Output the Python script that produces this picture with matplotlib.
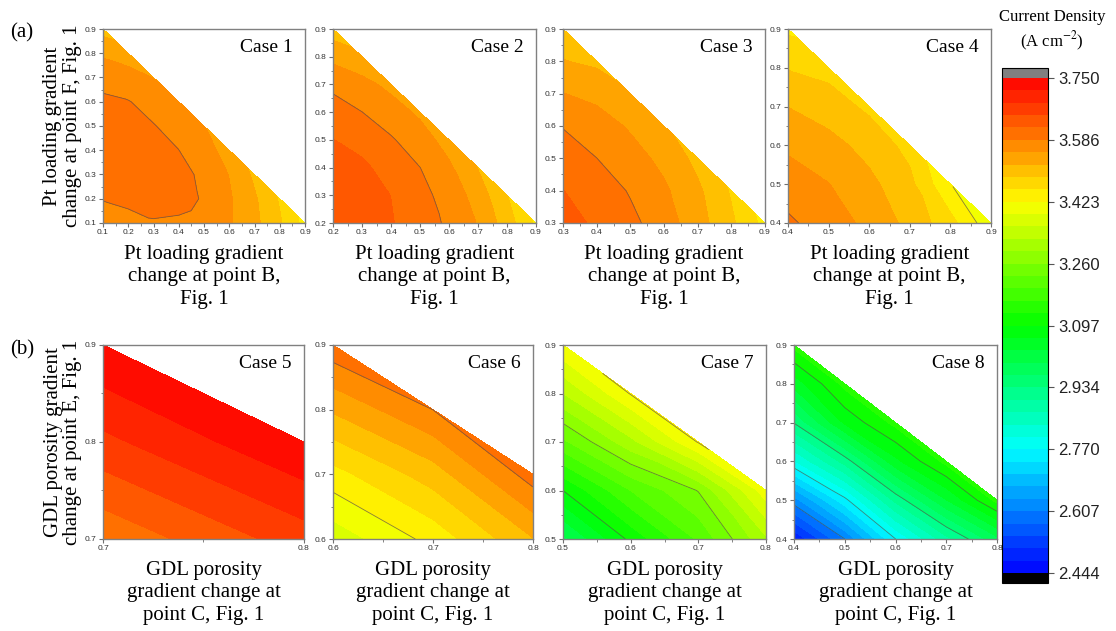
import numpy as np
import matplotlib
matplotlib.use('Agg')
import matplotlib.pyplot as plt
import matplotlib.tri as mtri
from matplotlib.colors import LinearSegmentedColormap, Normalize
from matplotlib.ticker import MultipleLocator, FormatStrFormatter

plt.rcParams['mathtext.fontset'] = 'stix'

# colour scale of the shared bar
cbar_min = 2.444
cbar_max = 3.750
n_levels = 40
cbar_ticklabels = ['2.444', '2.607', '2.770', '2.934', '3.097', '3.260', '3.423', '3.586', '3.750']

case_names = ['Case 1', 'Case 2', 'Case 3', 'Case 4', 'Case 5', 'Case 6', 'Case 7', 'Case 8']
# lower-left corner of each data grid (step 0.1), axis upper limits
case_x0 = [0.1, 0.2, 0.3, 0.4, 0.7, 0.6, 0.5, 0.4]
case_y0 = [0.1, 0.2, 0.3, 0.4, 0.7, 0.6, 0.5, 0.4]
case_xmax = [0.9, 0.9, 0.9, 0.9, 0.8, 0.8, 0.8, 0.8]
case_ymax = [0.9, 0.9, 0.9, 0.9, 0.9, 0.9, 0.9, 0.9]

# current density (A cm-2), one row per y value from the bottom, x increasing
case1 = [
    [3.552, 3.567, 3.583, 3.580, 3.572, 3.558, 3.530, 3.493, 3.445],
    [3.590, 3.601, 3.604, 3.601, 3.583, 3.558, 3.526, 3.485],
    [3.595, 3.603, 3.603, 3.597, 3.580, 3.553, 3.515],
    [3.597, 3.602, 3.599, 3.587, 3.568, 3.540],
    [3.596, 3.598, 3.588, 3.577, 3.555],
    [3.592, 3.588, 3.577, 3.558],
    [3.577, 3.570, 3.553],
    [3.548, 3.535],
    [3.510],
]
case2 = [
    [3.650, 3.640, 3.622, 3.600, 3.582, 3.552, 3.505, 3.450],
    [3.645, 3.632, 3.619, 3.596, 3.575, 3.540, 3.490],
    [3.635, 3.625, 3.608, 3.587, 3.560, 3.520],
    [3.620, 3.610, 3.590, 3.570, 3.540],
    [3.600, 3.587, 3.570, 3.548],
    [3.580, 3.565, 3.545],
    [3.545, 3.530],
    [3.505],
]
case3 = [
    [3.630, 3.615, 3.595, 3.570, 3.535, 3.495, 3.445],
    [3.620, 3.605, 3.584, 3.560, 3.528, 3.485],
    [3.605, 3.587, 3.568, 3.545, 3.512],
    [3.585, 3.570, 3.550, 3.525],
    [3.555, 3.545, 3.525],
    [3.523, 3.515],
    [3.500],
]
case4 = [
    [3.592, 3.572, 3.545, 3.512, 3.468, 3.400],
    [3.572, 3.555, 3.530, 3.498, 3.425],
    [3.548, 3.533, 3.510, 3.478],
    [3.521, 3.505, 3.482],
    [3.487, 3.478],
    [3.450],
]
case5 = [
    [3.594, 3.669],
    [3.676, 3.749],
    [3.749],
]
case6 = [
    [3.370, 3.435, 3.520],
    [3.444, 3.505, 3.603],
    [3.526, 3.587],
    [3.609],
]
case7 = [
    [2.990, 3.106, 3.200, 3.320],
    [3.097, 3.195, 3.262, 3.410],
    [3.220, 3.315, 3.426],
    [3.325, 3.426],
    [3.420],
]
case8 = [
    [2.480, 2.607, 2.770, 2.890, 2.990],
    [2.625, 2.760, 2.910, 3.030, 3.140],
    [2.800, 2.915, 3.055, 3.140],
    [2.936, 3.070, 3.140],
    [3.045, 3.140],
    [3.140],
]
case_values = [case1, case2, case3, case4, case5, case6, case7, case8]

x_labels = ['Pt loading gradient\nchange at point B,\nFig. 1',
            'GDL porosity\ngradient change at\npoint C, Fig. 1']
y_labels = ['Pt loading gradient\nchange at point F, Fig. 1',
            'GDL porosity gradient\nchange at point E, Fig. 1']


def triangulate(x0, y0, rows):
    xs, ys, zs, idx = [], [], [], {}
    for k, row in enumerate(rows):
        for i, v in enumerate(row):
            idx[(i, k)] = len(xs)
            xs.append(x0 + 0.1 * i)
            ys.append(y0 + 0.1 * k)
            zs.append(v)
    tris = []
    for k in range(len(rows) - 1):
        for i in range(len(rows[k]) - 1):
            a, b, c = idx[(i, k)], idx[(i + 1, k)], idx.get((i, k + 1))
            if c is None:
                continue
            tris.append([a, b, c])
            d = idx.get((i + 1, k + 1))
            if d is not None:
                tris.append([b, d, c])
    return mtri.Triangulation(xs, ys, tris), np.array(zs)


cmap = LinearSegmentedColormap.from_list(
    'origin_rainbow',
    [(0.0, '#0000ff'), (0.25, '#00ffff'), (0.5, '#00ff00'), (0.75, '#ffff00'), (1.0, '#ff0000')])
cmap.set_under('black')
cmap.set_over('#808080')
norm = Normalize(cbar_min, cbar_max)
levels = np.linspace(cbar_min, cbar_max, n_levels + 1)
major = levels[5:-1:5]

W, H = 1116, 631
fig = plt.figure(figsize=(W / 100, H / 100), dpi=100)

# axes boxes in pixels: left, right, top, bottom
boxes = [(103, 305, 29, 223), (333, 536, 29, 223), (563, 765, 29, 223), (788, 991, 29, 223),
         (103, 304, 345, 539), (333, 533, 345, 539), (563, 766, 345, 539), (794, 997, 345, 539)]

serif = 'Liberation Serif'
sans = 'Liberation Sans'
cs = None
for n in range(8):
    l, r, t, b = boxes[n]
    ax = fig.add_axes([l / W, 1 - b / H, (r - l) / W, (b - t) / H])
    tri, z = triangulate(case_x0[n], case_y0[n], case_values[n])
    cs = ax.tricontourf(tri, z, levels=levels, cmap=cmap, norm=norm, extend='both')
    ax.tricontour(tri, z, levels=major, colors='#505050', linewidths=0.6, alpha=0.7)
    ax.set_xlim(case_x0[n], case_xmax[n])
    ax.set_ylim(case_y0[n], case_ymax[n])
    ax.xaxis.set_major_locator(MultipleLocator(0.1))
    ax.yaxis.set_major_locator(MultipleLocator(0.1))
    ax.xaxis.set_minor_locator(MultipleLocator(0.05))
    ax.yaxis.set_minor_locator(MultipleLocator(0.05))
    ax.xaxis.set_major_formatter(FormatStrFormatter('%.1f'))
    ax.yaxis.set_major_formatter(FormatStrFormatter('%.1f'))
    ax.tick_params(which='both', direction='out', colors='#707070', labelcolor='#333333',
                   labelsize=6, pad=1.5)
    ax.tick_params(which='major', length=3, width=0.8)
    ax.tick_params(which='minor', length=1.8, width=0.6)
    for lab in ax.get_xticklabels() + ax.get_yticklabels():
        lab.set_fontfamily(sans)
    for sp in ax.spines.values():
        sp.set_color('#808080')
        sp.set_linewidth(1.0)
    ax.text(0.94, 0.95, case_names[n], transform=ax.transAxes, ha='right', va='top',
            fontsize=14, family=serif)
    row = n // 4
    ax.set_xlabel(x_labels[row], fontsize=15, family=serif, linespacing=1.25, labelpad=6)
    if n % 4 == 0:
        ax.set_ylabel(y_labels[row], fontsize=15, family=serif, linespacing=1.05, labelpad=2)

fig.text(10 / W, 1 - 33 / H, '(a)', fontsize=15, family=serif, va='center')
fig.text(10 / W, 1 - 350 / H, '(b)', fontsize=15, family=serif, va='center')

cax = fig.add_axes([1002 / W, 1 - 583 / H, 46 / W, 515 / H])
cb = fig.colorbar(cs, cax=cax, extendfrac=0.02, extendrect=True)
cb.set_ticks(levels[::5])
cb.set_ticklabels(cbar_ticklabels)
cb.ax.tick_params(labelsize=12, length=4, width=0.8, color='#555555', labelcolor='#222222')
for lab in cb.ax.get_yticklabels():
    lab.set_fontfamily(sans)
cb.outline.set_linewidth(0.8)
fig.text(1052 / W, 1 - 31 / H, 'Current Density\n(A cm$^{-2}$)', fontsize=12, family=serif,
         ha='center', va='center', linespacing=1.3)

fig.savefig('out.png', dpi=100)
